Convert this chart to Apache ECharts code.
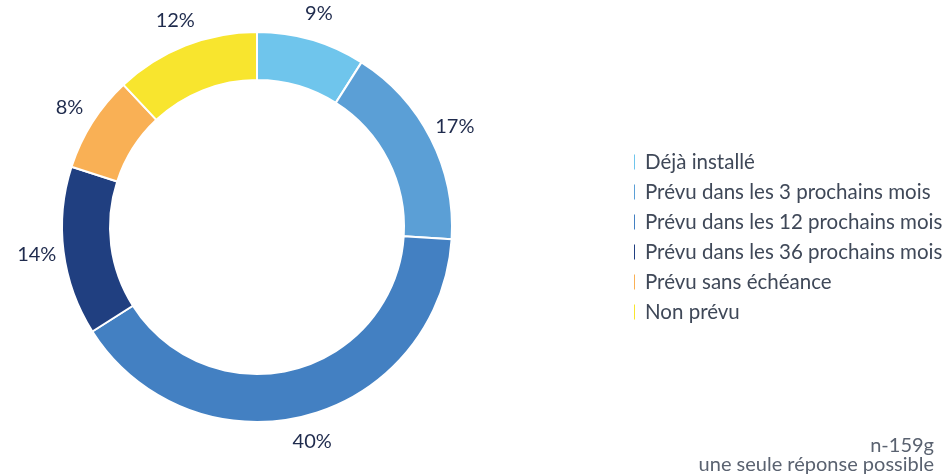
<!DOCTYPE html>
<html>
<head>
<meta charset="utf-8">
<script src="https://cdn.jsdelivr.net/npm/echarts@6/dist/echarts.min.js"></script>
<style>
  html, body { margin: 0; padding: 0; background: #fff; }
  #chart { width: 945px; height: 476px; }
</style>
</head>
<body>
<div id="chart"></div>
<script>
// donnees
var categories = ["Déjà installé", "Prévu dans les 3 prochains mois", "Prévu dans les 12 prochains mois",
                  "Prévu dans les 36 prochains mois", "Prévu sans échéance", "Non prévu"];
var valeurs = [9, 17, 40, 14, 8, 12];
var couleurs = ["#6fc5ec", "#5b9fd6", "#4380c2", "#203f80", "#f9b055", "#f8e52e"];
var noteLignes = ["n-159g", "une seule réponse possible"];

var dom = document.getElementById("chart");
var myChart = echarts.init(dom);

var donnees = categories.map(function (c, i) {
    return { name: c, value: valeurs[i], itemStyle: { color: couleurs[i] } };
});

var option = {
    animation: false,
    textStyle: { fontFamily: "Lato" },
    legend: {
        orient: "vertical",
        left: 627,
        top: 146,
        icon: "rect",
        itemWidth: 3,
        itemHeight: 17,
        itemGap: 8,
        data: categories.map(function (c, i) {
            return { name: c, itemStyle: { color: couleurs[i] } };
        }),
        textStyle: { fontFamily: "Lato", fontSize: 20.5, color: "#3f4858", lineHeight: 22, padding: [0, 0, 0, 4] }
    },
    // note en bas a droite, une ligne par element
    graphic: noteLignes.map(function (t, i) {
        return {
            type: "text",
            right: 11,
            bottom: i === 0 ? 20 : 1,
            style: { text: t, font: "20px Lato", fill: "#5a6270" }
        };
    }),
    series: [
        {
            type: "pie",
            center: [257, 227],
            radius: [147, 195],
            startAngle: 90,
            clockwise: true,
            silent: true,
            itemStyle: { borderColor: "#fff", borderWidth: 2 },
            label: { show: false },
            labelLine: { show: false },
            data: donnees
        },
        {
            // serie invisible pour placer les pourcentages
            type: "pie",
            center: [257, 227],
            radius: [212, 226],
            startAngle: 90,
            clockwise: true,
            silent: true,
            legendHoverLink: false,
            itemStyle: { color: "rgba(0,0,0,0)" },
            label: {
                show: true,
                position: "inside",
                formatter: "{c}%",
                fontFamily: "Lato",
                fontSize: 20,
                color: "#1f2b4d"
            },
            labelLine: { show: false },
            data: categories.map(function (c, i) { return { name: c, value: valeurs[i] }; })
        }
    ]
};
myChart.setOption(option);
</script>
</body>
</html>
